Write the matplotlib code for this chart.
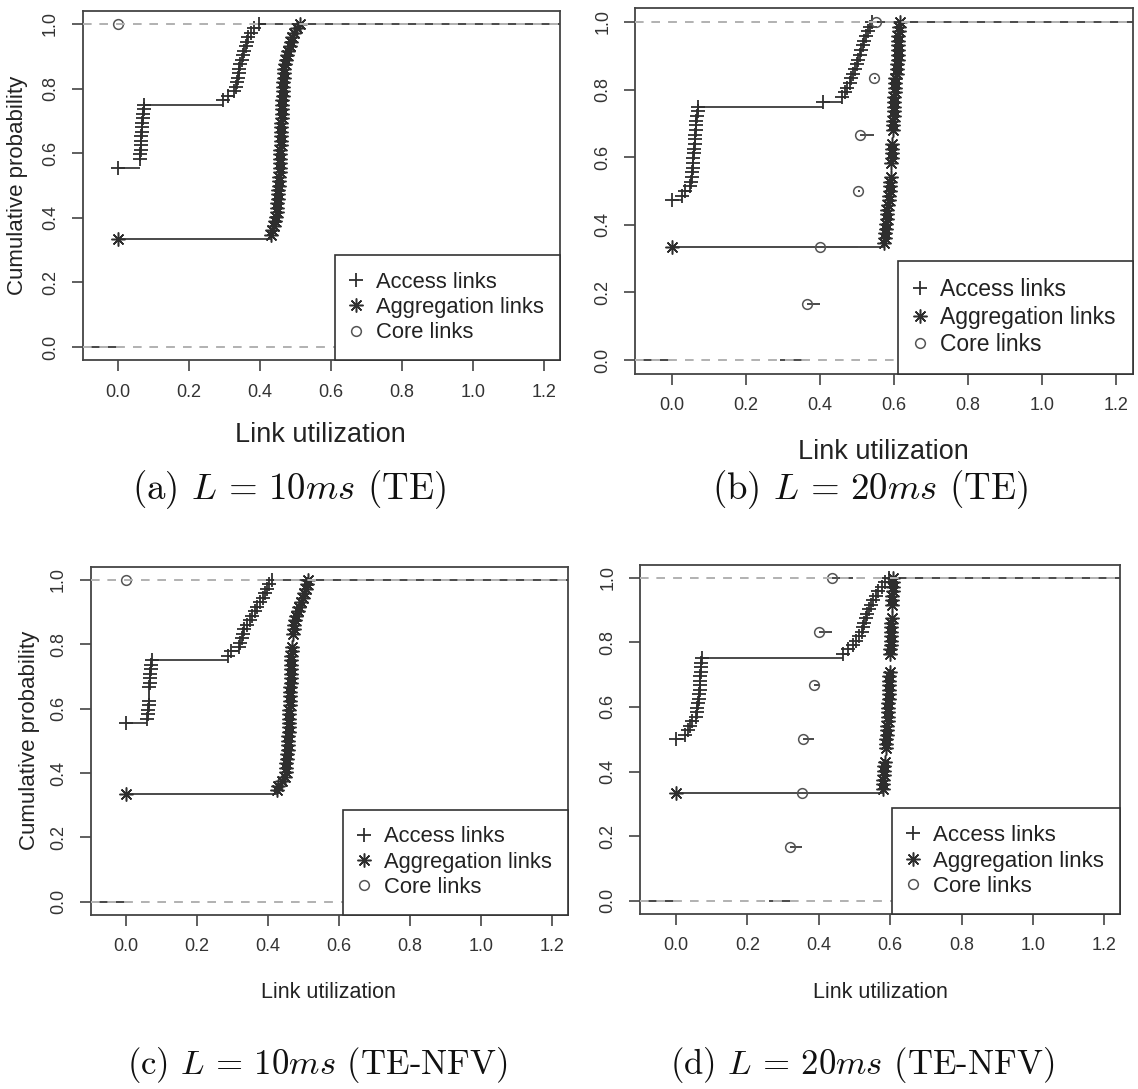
#!/usr/bin/env python3
"""ECDF of link utilization (access / aggregation / core links), four panels."""

import matplotlib
matplotlib.use("Agg")
import matplotlib.pyplot as plt
import numpy as np
from matplotlib import font_manager
from matplotlib.lines import Line2D
from matplotlib.ticker import FormatStrFormatter

# ---------------------------------------------------------------- data
# per-link utilization samples (72 access, 72 aggregation links)
access_a = [0.0] * 40 + [
    0.062, 0.062,
    0.063, 0.064, 0.065, 0.0655, 0.066, 0.067, 0.068, 0.069, 0.070, 0.071, 0.072, 0.073,
    0.297, 0.310, 0.328, 0.331, 0.334, 0.337, 0.340, 0.342, 0.345, 0.348, 0.352, 0.356,
    0.360, 0.363, 0.367, 0.375, 0.384, 0.397]
agg_a = [0.0] * 24 + [
    0.430, 0.434, 0.439, 0.443, 0.445, 0.447, 0.448, 0.449, 0.450, 0.451,
    0.452, 0.453, 0.4535, 0.454, 0.455, 0.4555, 0.456, 0.4565, 0.457, 0.4575,
    0.458, 0.4585, 0.459, 0.4595, 0.460, 0.4605, 0.461, 0.4615, 0.462, 0.4625,
    0.463, 0.4635, 0.464, 0.465, 0.466, 0.467, 0.468, 0.469, 0.471, 0.473,
    0.476, 0.480, 0.484, 0.487, 0.491, 0.496, 0.503, 0.512]
core_a = [0.0]

access_b = [0.0] * 34 + [
    0.026, 0.035, 0.048, 0.052, 0.054, 0.055, 0.056, 0.057, 0.058, 0.059,
    0.060, 0.061, 0.062, 0.063, 0.064, 0.065, 0.066, 0.067, 0.069, 0.071,
    0.409, 0.459, 0.468, 0.474, 0.480, 0.485, 0.490, 0.495, 0.500, 0.504,
    0.508, 0.512, 0.515, 0.519, 0.524, 0.530, 0.535, 0.540]
agg_b = [0.0] * 24 + [
    0.574, 0.576, 0.577, 0.578, 0.579, 0.580, 0.581, 0.582, 0.585, 0.586,
    0.587, 0.588, 0.589, 0.590, 0.591, 0.593, 0.593, 0.593, 0.5935, 0.594,
    0.5945, 0.595, 0.597, 0.597, 0.597, 0.598, 0.5985, 0.599, 0.5995, 0.600,
    0.6005, 0.601, 0.6015, 0.602, 0.6025, 0.603, 0.608, 0.6085, 0.609, 0.6095,
    0.610, 0.6105, 0.611, 0.6115, 0.612, 0.613, 0.614, 0.615]
core_b = [0.364, 0.400, 0.503, 0.508, 0.546, 0.551]

access_c = [0.0] * 40 + [
    0.058, 0.061, 0.063, 0.064, 0.065, 0.066, 0.066, 0.066, 0.067, 0.068,
    0.069, 0.070, 0.071, 0.072,
    0.288, 0.296, 0.318, 0.322, 0.326, 0.329, 0.333, 0.340, 0.348, 0.355,
    0.362, 0.370, 0.378, 0.386, 0.392, 0.398, 0.404, 0.410]
agg_c = [0.0] * 24 + [
    0.424, 0.428, 0.440, 0.448, 0.450, 0.451, 0.452, 0.453, 0.454, 0.455,
    0.456, 0.457, 0.4575, 0.458, 0.4585, 0.459, 0.4595, 0.460, 0.4605, 0.461,
    0.4615, 0.462, 0.4625, 0.463, 0.4635, 0.464, 0.4643, 0.4647, 0.465, 0.4655,
    0.466, 0.4665, 0.467, 0.470, 0.470, 0.470, 0.472, 0.474, 0.477, 0.480,
    0.484, 0.488, 0.493, 0.498, 0.502, 0.506, 0.510, 0.514]
core_c = [0.0]

access_d = [0.0] * 36 + [
    0.025, 0.033, 0.038, 0.044, 0.056, 0.058, 0.060, 0.062, 0.064, 0.065,
    0.066, 0.0665, 0.067, 0.068, 0.069, 0.070, 0.071, 0.072,
    0.469, 0.483, 0.495, 0.505, 0.513, 0.520, 0.524, 0.528, 0.531, 0.534,
    0.540, 0.546, 0.553, 0.560, 0.567, 0.576, 0.586, 0.598]
agg_d = [0.0] * 24 + [
    0.579, 0.580, 0.581, 0.582, 0.583, 0.584, 0.585, 0.587, 0.587, 0.587,
    0.588, 0.589, 0.590, 0.591, 0.592, 0.593, 0.5935, 0.594, 0.5945, 0.595,
    0.5955, 0.596, 0.5965, 0.597, 0.5975, 0.598, 0.599, 0.600, 0.600, 0.600,
    0.600, 0.6005, 0.601, 0.6015, 0.602, 0.6025, 0.603, 0.6035, 0.604, 0.605,
    0.605, 0.605, 0.6055, 0.606, 0.6065, 0.607, 0.6075, 0.608]
core_d = [0.320, 0.354, 0.357, 0.387, 0.400, 0.436]

series_labels = ["Access links", "Aggregation links", "Core links"]
captions = [
    r"(a) $L\,=\,10ms$ (TE)",
    r"(b) $L\,=\,20ms$ (TE)",
    r"(c) $L\,=\,10ms$ (TE-NFV)",
    r"(d) $L\,=\,20ms$ (TE-NFV)",
]
x_ticks = [0.0, 0.2, 0.4, 0.6, 0.8, 1.0, 1.2]
y_ticks = [0.0, 0.2, 0.4, 0.6, 0.8, 1.0]
x_label = "Link utilization"
y_label = "Cumulative probability"

# ---------------------------------------------------------------- style
W, H = 1138, 1089
XLIM = (-0.1, 1.245)
YLIM = (-0.04, 1.04)
LINE = "#4a4a4a"
GRAY01 = "#b3b3b3"

installed = {f.name for f in font_manager.fontManager.ttflist}
NARROW = "Liberation Sans Narrow" in installed
REG = "Liberation Sans"
NARROW_FAM = "Liberation Sans Narrow" if NARROW else REG
plt.rcParams["font.family"] = [REG, "DejaVu Sans"]
plt.rcParams["mathtext.fontset"] = "cm"
plt.rcParams["axes.unicode_minus"] = False

if NARROW:
    tick_fs, xlab_big, xlab_small = 15, 22, 18
else:
    tick_fs, xlab_big, xlab_small = 13, 19.5, 15.5

# pixel calibration of each panel: x of 0.0, px per unit, y of 0.0, y of 1.0
panels = [
    dict(x0=118, sx=355, y0=347, y1=24, leg_fs=15.8, xlab_fs=xlab_big,
         xlab=(320, 435), ylab=(18, None), cap=(289, 490), cap_fs=26.5),
    dict(x0=672, sx=370, y0=360, y1=22, leg_fs=16.5, xlab_fs=xlab_big,
         xlab=(883, 452), ylab=None, cap=(870, 490), cap_fs=26.5),
    dict(x0=126, sx=355, y0=901.7, y1=580, leg_fs=15.8, xlab_fs=xlab_small,
         xlab=(328, 993), ylab=(30, None), cap=(317, 1065), cap_fs=25),
    dict(x0=676, sx=357, y0=900.7, y1=577.7, leg_fs=16.0, xlab_fs=xlab_small,
         xlab=(880, 993), ylab=None, cap=(862, 1065), cap_fs=25),
]
data = [
    (access_a, agg_a, core_a),
    (access_b, agg_b, core_b),
    (access_c, agg_c, core_c),
    (access_d, agg_d, core_d),
]

marker_styles = [
    dict(marker="+", markersize=10, markeredgewidth=1.3, color="#2e2e2e"),
    dict(marker=(8, 2, 0), markersize=10, markeredgewidth=1.1, color="#2e2e2e"),
    dict(marker="o", markersize=7, markeredgewidth=1.1, color="#555555",
         markerfacecolor="none"),
]


def ecdf_steps(values):
    v = np.sort(np.asarray(values, dtype=float))
    xs, counts = np.unique(v, return_counts=True)
    return xs, np.cumsum(counts) / len(v)


def draw_ecdf(ax, values, style, first):
    # mimics R plot.stepfun(verticals = FALSE) + the gray 0/1 lines of plot.ecdf
    xs, ys = ecdf_steps(values)
    if first:
        dr = XLIM[1] - XLIM[0]
        lo, hi = XLIM[0] - dr, XLIM[1] + dr
    else:
        if len(xs) > 1:
            dr = max(0.08 * (xs[-1] - xs[0]), float(np.median(np.diff(xs))))
        else:
            dr = abs(xs[0]) / 16
        lo, hi = xs[0] - 2 * dr, xs[-1] + 2 * dr
    edges = np.concatenate([[lo], xs, [hi]])
    levels = np.concatenate([[0.0], ys])
    ax.hlines(levels, edges[:-1], edges[1:], colors=LINE, linewidth=1.4, zorder=2)
    ax.plot(xs, ys, linestyle="none", zorder=3, **style)
    for h in (0.0, 1.0):
        ax.axhline(h, color=GRAY01, linestyle=(0, (5, 5)), linewidth=1.2, zorder=4)


fig = plt.figure(figsize=(W / 100, H / 100), dpi=100)

for k, (p, series) in enumerate(zip(panels, data)):
    sy = p["y0"] - p["y1"]
    left = p["x0"] + XLIM[0] * p["sx"]
    right = p["x0"] + XLIM[1] * p["sx"]
    top = p["y1"] - (YLIM[1] - 1.0) * sy
    bottom = p["y0"] - YLIM[0] * sy
    ax = fig.add_axes([left / W, 1 - bottom / H, (right - left) / W, (bottom - top) / H])

    for i, (vals, st) in enumerate(zip(series, marker_styles)):
        draw_ecdf(ax, vals, st, first=(i == 0))

    ax.set_xlim(*XLIM)
    ax.set_ylim(*YLIM)
    ax.set_xticks(x_ticks)
    ax.set_yticks(y_ticks)
    ax.xaxis.set_major_formatter(FormatStrFormatter("%.1f"))
    ax.yaxis.set_major_formatter(FormatStrFormatter("%.1f"))
    ax.tick_params(direction="out", length=8, width=1.2, color="#444444",
                   labelcolor="#333333", labelsize=tick_fs, pad=9)
    ax.tick_params(axis="y", labelrotation=90)
    for t in ax.get_xticklabels() + ax.get_yticklabels():
        t.set_fontfamily(NARROW_FAM)
    for t in ax.get_yticklabels():
        t.set_va("center")
    for s in ax.spines.values():
        s.set_color("#444444")
        s.set_linewidth(1.3)

    handles = [Line2D([], [], linestyle="none", **st) for st in marker_styles]
    leg = ax.legend(handles, series_labels, loc="lower right", borderaxespad=0,
                    fontsize=p["leg_fs"], frameon=True, fancybox=False,
                    framealpha=1, edgecolor="#333333", handlelength=0.45,
                    handletextpad=0.65, borderpad=0.75, labelspacing=0.2,
                    numpoints=1)
    leg.get_frame().set_linewidth(1.2)
    for t in leg.get_texts():
        t.set_color("#222222")

    ax.set_xlabel(x_label, fontsize=p["xlab_fs"], family=NARROW_FAM,
                  color="#222222", va="center")
    ax.xaxis.set_label_coords((p["xlab"][0] - left) / (right - left),
                              (bottom - p["xlab"][1]) / (bottom - top))
    if p["ylab"] is not None:
        ax.set_ylabel(y_label, fontsize=16, color="#222222", va="center")
        ax.yaxis.set_label_coords((p["ylab"][0] - left) / (right - left), 0.5)

    fig.text(p["cap"][0] / W, 1 - p["cap"][1] / H, captions[k],
             ha="center", va="center", fontsize=p["cap_fs"], color="#111111",
             family="cmr10")

fig.savefig("out.png", dpi=100)
